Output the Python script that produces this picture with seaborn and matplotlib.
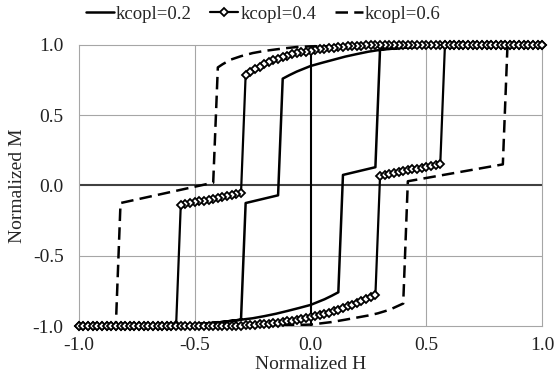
import numpy as np
import pandas as pd
import matplotlib
matplotlib.use("Agg")
import matplotlib.pyplot as plt
import seaborn as sns

# kcopl = 0.4 : field sweep in steps of 0.02 (markers on every point)
h_down_04 = np.linspace(1.0, -1.0, 101)
m_down_04 = [
    1.0, 1.0, 1.0, 1.0, 1.0, 1.0, 1.0, 1.0, 1.0, 1.0,
    1.0, 1.0, 1.0, 1.0, 1.0, 1.0, 1.0, 1.0, 1.0, 1.0,
    1.0, 1.0, 1.0, 1.0, 1.0, 1.0, 1.0, 1.0, 1.0, 1.0, 1.0,
    0.999, 0.999, 0.999, 0.999, 0.999,
    0.998, 0.997, 0.996, 0.995, 0.993, 0.991, 0.989, 0.986, 0.983, 0.980,
    0.977, 0.973, 0.969, 0.964, 0.959, 0.953, 0.947, 0.940, 0.932, 0.923,
    0.913, 0.902, 0.890, 0.877, 0.862, 0.846, 0.828, 0.808, 0.786,
    -0.055, -0.062, -0.068, -0.075, -0.081, -0.088, -0.094, -0.101, -0.107,
    -0.114, -0.120, -0.127, -0.133, -0.140,
    -0.996, -0.998, -1.0, -1.0, -1.0, -1.0, -1.0, -1.0, -1.0, -1.0, -1.0,
    -1.0, -1.0, -1.0, -1.0, -1.0, -1.0, -1.0, -1.0, -1.0, -1.0, -1.0,
]
h_up_04 = np.linspace(-1.0, 1.0, 101)
m_up_04 = [
    -1.0, -1.0, -1.0, -1.0, -1.0, -1.0, -1.0, -1.0, -1.0, -1.0,
    -1.0, -1.0, -1.0, -1.0, -1.0, -1.0, -1.0, -1.0, -1.0, -1.0,
    -1.0, -1.0, -1.0, -1.0, -1.0, -1.0, -1.0, -1.0, -1.0, -1.0,
    -0.999, -0.999, -0.999, -0.999, -0.999,
    -0.998, -0.996, -0.994, -0.992, -0.989, -0.986, -0.983, -0.979, -0.975, -0.971,
    -0.966, -0.961, -0.956, -0.950, -0.944, -0.938, -0.931, -0.923, -0.915, -0.906,
    -0.896, -0.885, -0.873, -0.861, -0.848, -0.835, -0.822, -0.809, -0.795, -0.781,
    0.065, 0.072, 0.079, 0.086, 0.093, 0.100, 0.107, 0.114, 0.120,
    0.127, 0.134, 0.141, 0.148, 0.155,
    0.996, 0.998, 1.0, 1.0, 1.0, 1.0, 1.0, 1.0, 1.0, 1.0, 1.0,
    1.0, 1.0, 1.0, 1.0, 1.0, 1.0, 1.0, 1.0, 1.0, 1.0, 1.0,
]

# kcopl = 0.2 : loop (descending then ascending)
h_02 = [1.0, 0.8, 0.6, 0.5, 0.4, 0.3, 0.25, 0.2, 0.15, 0.1, 0.05, 0.0, -0.03, -0.06, -0.09, -0.12,
        -0.14, -0.28, -0.30, -0.4, -0.5, -0.6, -0.8, -1.0,
        -0.8, -0.6, -0.5, -0.4, -0.3, -0.25, -0.2, -0.15, -0.1, -0.05, 0.0, 0.03, 0.06, 0.09, 0.12,
        0.14, 0.28, 0.30, 0.4, 0.5, 0.6, 0.8, 1.0]
m_02 = [1.0, 0.998, 0.994, 0.99, 0.98, 0.965, 0.952, 0.935, 0.917, 0.895, 0.873, 0.85, 0.83, 0.81, 0.786, 0.76,
        -0.07, -0.125, -0.955, -0.975, -0.988, -0.994, -0.998, -1.0,
        -0.998, -0.994, -0.988, -0.975, -0.955, -0.945, -0.93, -0.913, -0.893, -0.872, -0.85, -0.83, -0.81, -0.786, -0.76,
        0.075, 0.13, 0.97, 0.98, 0.99, 0.994, 0.998, 1.0]

# kcopl = 0.6 : loop (descending then ascending)
h_06 = [1.0, 0.6, 0.4, 0.2, 0.1, 0.0, -0.06, -0.1, -0.15, -0.2, -0.25, -0.3, -0.345, -0.38, -0.40,
        -0.42, -0.82, -0.84, -0.9, -1.0,
        -0.6, -0.4, -0.2, -0.1, 0.0, 0.09, 0.15, 0.19, 0.25, 0.29, 0.34, 0.38, 0.40,
        0.42, 0.83, 0.85, 0.9, 1.0]
m_06 = [1.0, 1.0, 0.999, 0.997, 0.993, 0.99, 0.985, 0.978, 0.968, 0.957, 0.942, 0.92, 0.895, 0.862, 0.84,
        0.02, -0.125, -0.99, -0.997, -1.0,
        -1.0, -0.999, -0.997, -0.994, -0.99, -0.972, -0.955, -0.943, -0.925, -0.91, -0.885, -0.855, -0.84,
        0.03, 0.15, 0.995, 0.998, 1.0]

x_ticks = [-1.0, -0.5, 0.0, 0.5, 1.0]
y_ticks = [-1.0, -0.5, 0.0, 0.5, 1.0]

sns.set_theme(style="white")
plt.rcParams['font.family'] = ['Liberation Serif', 'DejaVu Serif']
plt.rcParams['axes.unicode_minus'] = False

fig, ax = plt.subplots(figsize=(5.55, 3.84), dpi=100)
fig.subplots_adjust(left=0.142, right=0.977, top=0.883, bottom=0.151)

grid_c = '#a6a6a6'
for v in [-0.5, 0.5]:
    ax.axvline(v, color=grid_c, lw=0.8, zorder=0)
    ax.axhline(v, color=grid_c, lw=0.8, zorder=0)
ax.axhline(0, color='#404040', lw=1.5, zorder=1)
ax.axvline(0, color='black', lw=1.5, zorder=1)

sns.lineplot(x=h_02, y=m_02, sort=False, estimator=None, ax=ax, color='black',
             lw=1.8, label='kcopl=0.2', zorder=4)
df04 = pd.DataFrame({'H': np.concatenate([h_down_04, h_up_04]),
                     'M': np.concatenate([m_down_04, m_up_04])})
sns.lineplot(data=df04, x='H', y='M', sort=False, estimator=None, ax=ax, color='black',
             lw=1.6, marker='D', markersize=4.4, markerfacecolor='white',
             markeredgecolor='black', markeredgewidth=1.3, label='kcopl=0.4',
             clip_on=False, zorder=5)
sns.lineplot(x=h_06, y=m_06, sort=False, estimator=None, ax=ax, color='black',
             lw=1.8, linestyle=(0, (5, 2.5)), label='kcopl=0.6', zorder=3)

ax.set_xlim(-1, 1)
ax.set_ylim(-1, 1)
ax.set_xticks(x_ticks)
ax.set_yticks(y_ticks)
ax.set_xticklabels([f'{t:.1f}' for t in x_ticks])
ax.set_yticklabels([f'{t:.1f}' for t in y_ticks])
ax.tick_params(axis='x', length=0, labelsize=14, pad=8, colors='#222222')
ax.tick_params(axis='y', length=0, labelsize=14, pad=11, colors='#222222')
for s in ax.spines.values():
    s.set_color(grid_c)
    s.set_linewidth(0.8)
ax.set_xlabel('Normalized H', fontsize=14, labelpad=1)
ax.set_ylabel('Normalized M', fontsize=14, labelpad=5)

handles, labels = ax.get_legend_handles_labels()
ax.get_legend().remove()
fig.legend(handles, labels, loc='center', bbox_to_anchor=(0.474, 0.963), ncol=3,
           frameon=False, fontsize=13.5, handlelength=1.5, handletextpad=0.1,
           columnspacing=1.0)

fig.savefig('out.png', dpi=100)
